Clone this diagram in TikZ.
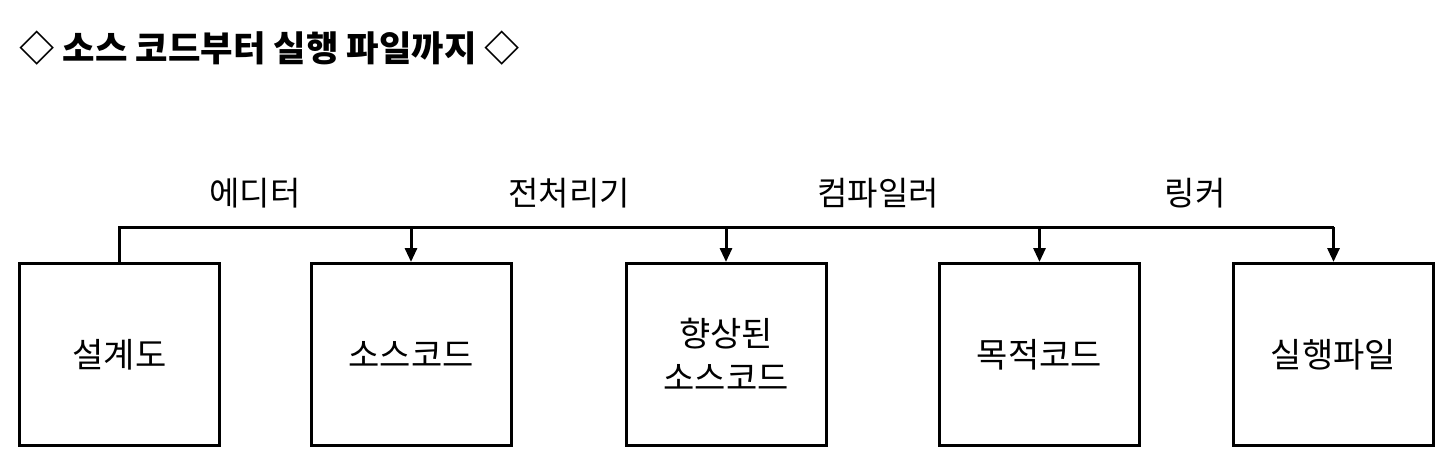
\documentclass[tikz,border=0pt]{standalone}
\usepackage{fontspec}
\setmainfont{Noto Sans CJK KR}
\usetikzlibrary{arrows.meta}
\begin{document}
\begin{tikzpicture}[x=1pt,y=-1pt,
  box/.style={draw,line width=3pt,minimum width=200pt,minimum height=182pt,inner sep=0pt,font=\fontsize{34}{44}\selectfont,align=center},
  lbl/.style={font=\fontsize{33}{38}\selectfont,inner sep=0pt},
  conn/.style={line width=3pt},
  arr/.style={conn,-{Triangle[length=14pt,width=12pt]}}]
\useasboundingbox (0,0) rectangle (1448,475);
\node[font=\bfseries\fontsize{35.3}{40}\selectfont,anchor=west,inner sep=0pt] (title) at (19,48) {◇ 소스 코드부터 실행 파일까지 ◇};
\node[box] (b1) at (119.5,354.5) {설계도};
\node[box] (b2) at (411,354.5) {소스코드};
\node[box] (b3) at (726,354.5) {향상된\\소스코드};
\node[box] (b4) at (1039.5,354.5) {목적코드};
\node[box] (b5) at (1333.5,354.5) {실행파일};
\coordinate (top) at (0,227);
\coordinate (h1) at (b1.north |- top);
\coordinate (h2) at (b2.north |- top);
\coordinate (h3) at (b3.north |- top);
\coordinate (h4) at (b4.north |- top);
\coordinate (h5) at (b5.north |- top);
\draw[conn,line join=miter] (b1.north) -- (h1) -- (h5);
\draw[arr] (h2) -- (b2.north);
\draw[arr] (h3) -- (b3.north);
\draw[arr] (h4) -- (b4.north);
\draw[arr] (h5) -- (b5.north);
\node[lbl] (l1) at (255,193) {에디터};
\node[lbl] (l2) at (569,193) {전처리기};
\node[lbl] (l3) at (878,193) {컴파일러};
\node[lbl] (l4) at (1195,193) {링커};
\end{tikzpicture}
\end{document}
